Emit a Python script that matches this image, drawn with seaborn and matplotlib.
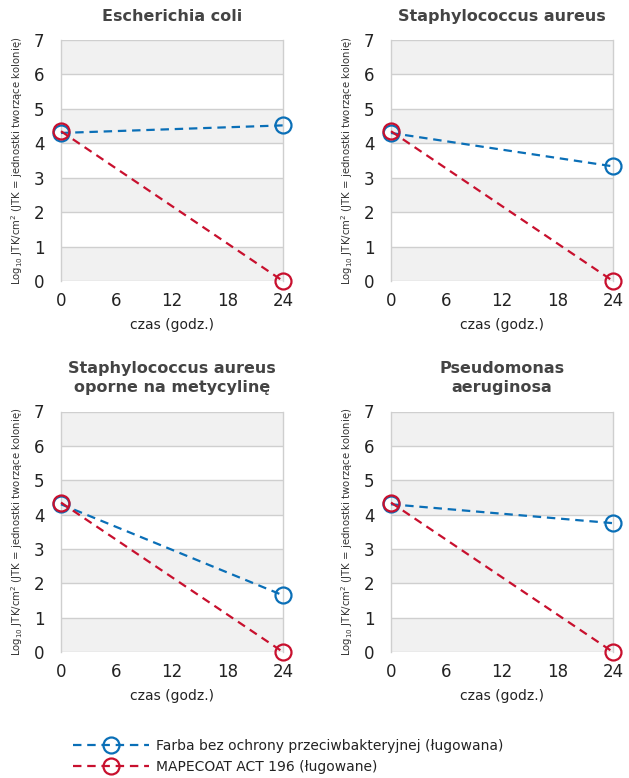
import matplotlib
matplotlib.use("Agg")
import matplotlib.pyplot as plt
import seaborn as sns
import pandas as pd

sns.set_theme(style="white")
plt.rcParams['font.family'] = ['DejaVu Sans']

time_h = [0, 24]
titles = ["Escherichia coli", "Staphylococcus aureus",
          "Staphylococcus aureus\noporne na metycylinę", "Pseudomonas\naeruginosa"]
farba_vals = [[4.3, 4.52], [4.3, 3.33], [4.3, 1.65], [4.3, 3.75]]
mapecoat_vals = [[4.35, 0.0], [4.35, 0.0], [4.35, 0.0], [4.35, 0.0]]
series_names = ["Farba bez ochrony przeciwbakteryjnej (ługowana)", "MAPECOAT ACT 196 (ługowane)"]
colors = ["#0a6fb7", "#c8102e"]
x_ticks = [0, 6, 12, 18, 24]
y_ticks = [0, 1, 2, 3, 4, 5, 6, 7]
ylabel = "Log$_{10}$ JTK/cm$^2$ (JTK = jednostki tworzące kolonię)"
xlabel = "czas (godz.)"

W, H = 629, 778
fig = plt.figure(figsize=(W / 100, H / 100), dpi=100)

positions = [(61, 40, 283, 281), (391, 40, 613, 281),
             (61, 411.5, 283, 652), (391, 411.5, 613, 652)]

grid_c = "#cfcfcf"
band_c = "#f1f1f1"
text_c = "#222222"

axes = []
for i, (x0, y0, x1, y1) in enumerate(positions):
    ax = fig.add_axes([x0 / W, 1 - y1 / H, (x1 - x0) / W, (y1 - y0) / H])
    axes.append(ax)
    for b in range(0, 7, 2):
        ax.axhspan(b, b + 1, color=band_c, zorder=0, lw=0)
    for yv in y_ticks:
        ax.axhline(yv, color=grid_c, lw=1.0, zorder=1)
    df = pd.DataFrame({
        "czas": time_h * 2,
        "log": farba_vals[i] + mapecoat_vals[i],
        "seria": [series_names[0]] * 2 + [series_names[1]] * 2,
    })
    for s, name in enumerate(series_names):
        sub = df[df["seria"] == name]
        sns.lineplot(data=sub, x="czas", y="log", ax=ax, color=colors[s],
                     linestyle=(0, (3.8, 2.6)), lw=1.6, marker="o", markersize=11.5,
                     markerfacecolor="none", markeredgecolor=colors[s],
                     markeredgewidth=1.6, clip_on=False, zorder=3, label=name,
                     legend=False)
    ax.set_xlim(0, 24)
    ax.set_ylim(0, 7)
    ax.set_xticks(x_ticks)
    ax.set_yticks(y_ticks)
    ax.tick_params(axis="x", direction="in", length=5, width=1, color=grid_c,
                   labelsize=12, labelcolor=text_c, pad=8)
    ax.tick_params(axis="y", length=0, labelsize=12, labelcolor=text_c, pad=12)
    for sp in ["top", "bottom"]:
        ax.spines[sp].set_visible(False)
    for sp in ["left", "right"]:
        ax.spines[sp].set_color(grid_c)
        ax.spines[sp].set_linewidth(1.0)
    ax.set_xlabel(xlabel, fontsize=10, color=text_c, labelpad=6)
    ax.set_ylabel(ylabel, fontsize=7.3, color="#333333", labelpad=6)
    ax.set_title(titles[i], fontsize=11.5, fontweight="bold", color="#444444",
                 pad=14, linespacing=1.3)

handles, labels = axes[0].get_legend_handles_labels()
fig.legend(handles, labels, loc="upper left", bbox_to_anchor=(66 / W, 1 - 732 / H),
           frameon=False, fontsize=10, handlelength=5.5, handletextpad=0.5,
           labelspacing=0.5, borderpad=0, labelcolor=text_c)

fig.savefig("out.png", dpi=100)
